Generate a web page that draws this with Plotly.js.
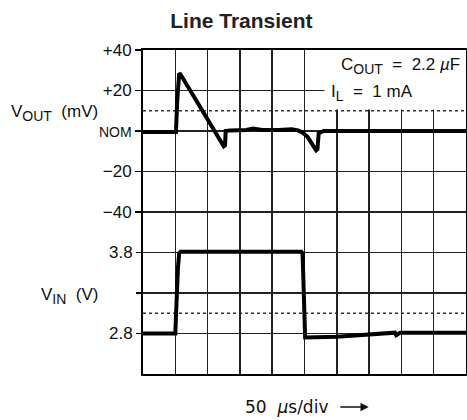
<!DOCTYPE html>
<html>
<head>
<meta charset="utf-8">
<script src="https://cdn.plot.ly/plotly-3.0.1.min.js"></script>
<style>html,body{margin:0;padding:0;background:#fff;}#chart{width:467px;height:420px;}</style>
</head>
<body>
<div id="chart"></div>
<script>
// ---- data (time in µs, 50 µs/div) ----
const timeVout = [0, 51, 53, 56, 58, 125, 127, 128, 135, 160, 170, 185, 210, 230, 240, 248, 255, 268, 270, 272, 280, 500];
const vout     = [-0.5, -0.5, 15, 28.5, 28, -7.5, -7, 0, 0.3, 0.5, 1.2, 0.5, 0.5, 0.8, 0.3, -1, -3, -9.5, -9, -1, 0, 0];

const timeVin = [0, 50, 54, 56, 58, 150, 240, 245, 247, 249, 251, 300, 385, 390, 392, 395, 398, 500];
const vin     = [2.8, 2.8, 3.6, 3.79, 3.81, 3.815, 3.81, 3.81, 3.79, 3.3, 2.75, 2.76, 2.81, 2.81, 2.78, 2.79, 2.81, 2.81];

const voutTickVals = [40, 20, 0, -20, -40];
const voutTickText = ['+40', '+20', '<span style="font-size:14px">NOM</span>', '\u221220', '\u221240'];
const vinTickVals = [3.8, 3.3, 2.8];
const vinTickText = ['3.8', '', '2.8'];

const voutRefLevels = [10];    // mV dotted reference
const vinRefLevels = [3.05];   // V dotted reference

const txtFont = 'Liberation Sans, Arial, sans-serif';
const gridC = '#222';
const subStyle = 'font-size:14px';

const traces = [
  {x: timeVout, y: vout, xaxis: 'x', yaxis: 'y', mode: 'lines',
   line: {color: '#000', width: 4}, hoverinfo: 'skip'},
  {x: timeVin, y: vin, xaxis: 'x', yaxis: 'y2', mode: 'lines',
   line: {color: '#000', width: 4}, hoverinfo: 'skip'}
];

const shapes = [
  {type: 'rect', xref: 'x', yref: 'y', x0: 281, x1: 500, y0: 10.6, y1: 40,
   fillcolor: '#fff', line: {width: 0}, layer: 'between'}
];
voutRefLevels.forEach(v => shapes.push({type: 'line', xref: 'paper', yref: 'y', x0: 0, x1: 1, y0: v, y1: v,
  line: {color: '#333', width: 1.5, dash: 'dot'}, layer: 'between'}));
vinRefLevels.forEach(v => shapes.push({type: 'line', xref: 'paper', yref: 'y2', x0: 0, x1: 1, y0: v, y1: v,
  line: {color: '#333', width: 1.5, dash: 'dot'}, layer: 'between'}));

const layout = {
  width: 467, height: 420,
  margin: {l: 143, r: 1, t: 50, b: 46},
  paper_bgcolor: '#fff', plot_bgcolor: '#fff',
  showlegend: false,
  font: {family: txtFont, size: 16, color: '#111'},
  title: {text: '<b>Line Transient</b>', font: {family: txtFont, size: 21, color: '#222'},
          xref: 'container', yref: 'container', x: 0.517, xanchor: 'center', y: 0.95, yanchor: 'middle'},
  xaxis: {range: [0, 500], tick0: 0, dtick: 50, showticklabels: false, ticks: '',
          showgrid: true, gridcolor: gridC, gridwidth: 1.5, zeroline: false,
          showline: true, linecolor: '#000', linewidth: 2, mirror: true, fixedrange: true},
  yaxis: {range: [-120, 40], tickmode: 'array', tickvals: voutTickVals, ticktext: voutTickText,
          ticks: 'outside', ticklen: 6, tickwidth: 1.5, tickcolor: '#000',
          showgrid: true, gridcolor: gridC, gridwidth: 1.5, zeroline: false,
          showline: true, linecolor: '#000', linewidth: 2, mirror: true, fixedrange: true,
          tickfont: {family: txtFont, size: 17, color: '#111'}},
  yaxis2: {range: [2.3, 6.3], overlaying: 'y', side: 'left', tickmode: 'array',
           tickvals: vinTickVals, ticktext: vinTickText,
           ticks: 'outside', ticklen: 6, tickwidth: 1.5, tickcolor: '#000',
           showgrid: true, gridcolor: gridC, gridwidth: 1.5, zeroline: false,
           showline: false, fixedrange: true,
           tickfont: {family: txtFont, size: 17, color: '#111'}},
  shapes: shapes,
  annotations: [
    {text: 'V<sub><span style="' + subStyle + '">OUT</span></sub>\u00a0\u00a0(mV)', xref: 'paper', yref: 'paper', x: -0.133, y: 0.806,
     xanchor: 'right', yanchor: 'middle', showarrow: false, font: {family: txtFont, size: 17, color: '#111'}},
    {text: 'V<sub><span style="' + subStyle + '">IN</span></sub>\u00a0\u00a0(V)', xref: 'paper', yref: 'paper', x: -0.133, y: 0.241,
     xanchor: 'right', yanchor: 'middle', showarrow: false, font: {family: txtFont, size: 17, color: '#111'}},
    {text: 'C<sub><span style="' + subStyle + '">OUT</span></sub>\u00a0\u00a0=\u00a0\u00a02.2\u00a0<i>\u00b5</i>F', xref: 'paper', yref: 'paper', x: 0.988, y: 0.952,
     xanchor: 'right', yanchor: 'middle', showarrow: false, font: {family: txtFont, size: 17, color: '#111'}},
    {text: 'I<sub><span style="' + subStyle + '">L</span></sub>\u00a0\u00a0=\u00a0\u00a01\u00a0mA', xref: 'paper', yref: 'paper', x: 0.576, y: 0.866,
     xanchor: 'left', yanchor: 'middle', showarrow: false, font: {family: txtFont, size: 17, color: '#111'}},
    {text: '50\u00a0\u00a0<i>\u00b5</i>s/div', xref: 'paper', yref: 'paper', x: 0.309, y: -0.102,
     xanchor: 'left', yanchor: 'middle', showarrow: false, font: {family: 'DejaVu Sans, sans-serif', size: 17, color: '#111'}},
    {text: '', xref: 'paper', yref: 'paper', x: 0.699, y: -0.102, ax: -30, ay: 0,
     showarrow: true, arrowhead: 2, arrowsize: 1.1, arrowwidth: 1.5, arrowcolor: '#111'}
  ]
};

Plotly.newPlot('chart', traces, layout, {staticPlot: true, displayModeBar: false});
</script>
</body>
</html>
